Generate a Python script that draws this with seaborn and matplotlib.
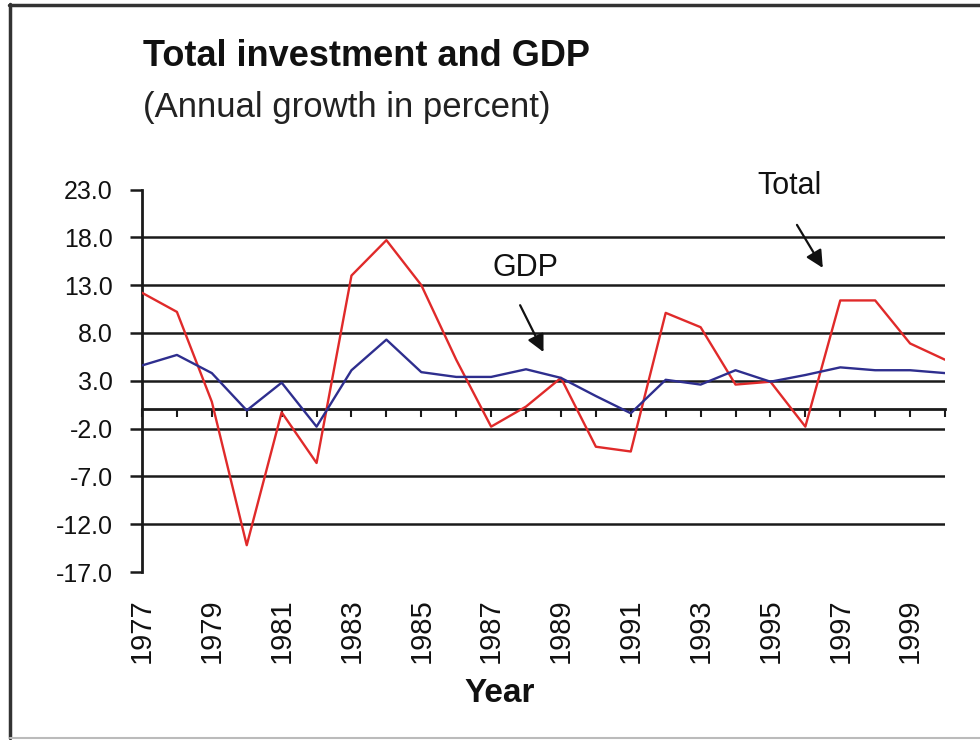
import matplotlib
matplotlib.use("Agg")
import matplotlib.pyplot as plt
import numpy as np
import pandas as pd
import seaborn as sns
from matplotlib.lines import Line2D

# ---- data ----
years = list(range(1977, 2001))
total = [12.2, 10.2, 0.8, -14.2, -0.3, -5.6, 14.0, 17.7, 13.0, 5.2, -1.8, 0.3,
         3.3, -3.9, -4.4, 10.1, 8.6, 2.6, 2.9, -1.8, 11.4, 11.4, 6.9, 5.2]
gdp = [4.6, 5.7, 3.8, -0.1, 2.8, -1.8, 4.1, 7.3, 3.9, 3.4, 3.4, 4.2,
       3.3, 1.4, -0.4, 3.1, 2.6, 4.1, 2.9, 3.6, 4.4, 4.1, 4.1, 3.8]
series_names = ["Total", "GDP"]
y_ticks = [-17, -12, -7, -2, 3, 8, 13, 18, 23]
x_label_years = years[::2]
title = "Total investment and GDP"
subtitle = "(Annual growth in percent)"
x_title = "Year"

df = pd.DataFrame({
    "Year": years * 2,
    "Growth": total + gdp,
    "Series": [series_names[0]] * len(years) + [series_names[1]] * len(years),
})

sns.set_theme(style="white")
plt.rcParams["font.family"] = ["Liberation Sans", "DejaVu Sans"]

fig = plt.figure(figsize=(9.8, 7.4), dpi=100)
ax = fig.add_axes([142 / 980, 1 - 572 / 740, (945 - 142) / 980, (572 - 189.5) / 740])

sns.lineplot(data=df, x="Year", y="Growth", hue="Series",
             palette={"Total": "#e02a2a", "GDP": "#2e2e8e"},
             linewidth=1.7, ax=ax, legend=False, zorder=3)

ax.set_xlim(years[0], years[-1])
ax.set_ylim(y_ticks[0], y_ticks[-1])

# y axis
ax.set_yticks(y_ticks)
ax.set_yticklabels([f"{v:.1f}" for v in y_ticks])
ax.tick_params(axis="y", direction="out", length=9, width=1.8, color="#1a1a1a",
               labelsize=18, pad=12, left=True, labelcolor="#111")
ax.yaxis.grid(True, color="#1a1a1a", linewidth=1.8)
gls = ax.get_ygridlines()
gls[0].set_visible(False)
gls[-1].set_visible(False)
ax.set_axisbelow(True)

# spines
for s in ["top", "right"]:
    ax.spines[s].set_visible(False)
ax.spines["left"].set_color("#1a1a1a")
ax.spines["left"].set_linewidth(2.0)
ax.spines["bottom"].set_position(("data", 0))
ax.spines["bottom"].set_color("#1a1a1a")
ax.spines["bottom"].set_linewidth(2.0)

# category ticks on the zero line
ax.set_xticks(years)
ax.tick_params(axis="x", direction="out", length=6, width=1.5, color="#1a1a1a",
               bottom=True, labelbottom=False)
ax.set_xlabel("")
ax.set_ylabel("")

# labels at the bottom of the plot area
sec = ax.secondary_xaxis(0.0)
sec.set_xticks(x_label_years)
sec.set_xticklabels([str(y) for y in x_label_years])
sec.tick_params(axis="x", length=0, pad=19, labelsize=21, labelrotation=90,
                labelcolor="#111")
sec.spines["bottom"].set_visible(False)

fig.text(500 / 980, 1 - 693 / 740, x_title, fontsize=24, fontweight="bold",
         ha="center", va="center", color="#111")

# annotations
ax.text(1987.97, 14.8, "GDP", fontsize=22, ha="center", va="center", color="#111")
ax.annotate("", xy=(1988.5, 6.0), xytext=(1987.83, 10.9),
            arrowprops=dict(arrowstyle="-|>", color="#111", lw=1.6,
                            mutation_scale=26, shrinkA=0, shrinkB=0))
ax.text(1995.56, 23.4, "Total", fontsize=22, ha="center", va="center", color="#111",
        clip_on=False)
ax.annotate("", xy=(1996.5, 14.8), xytext=(1995.76, 19.3),
            arrowprops=dict(arrowstyle="-|>", color="#111", lw=1.6,
                            mutation_scale=26, shrinkA=0, shrinkB=0))

# titles
fig.text(143 / 980, 1 - 66 / 740, title, fontsize=26, fontweight="bold",
         ha="left", va="baseline", color="#111")
fig.text(143 / 980, 1 - 117 / 740, subtitle, fontsize=25,
         ha="left", va="baseline", color="#222")

# figure frame
fig.add_artist(Line2D([10 / 980, 10 / 980], [2 / 740, 1 - 4 / 740],
                      transform=fig.transFigure, color="#333", lw=2.5))
fig.add_artist(Line2D([9 / 980, 1.0], [1 - 5 / 740, 1 - 5 / 740],
                      transform=fig.transFigure, color="#333", lw=2.5))
fig.add_artist(Line2D([10 / 980, 1.0], [2 / 740, 2 / 740],
                      transform=fig.transFigure, color="#bbb", lw=1.5))

fig.savefig("out.png", dpi=100)
